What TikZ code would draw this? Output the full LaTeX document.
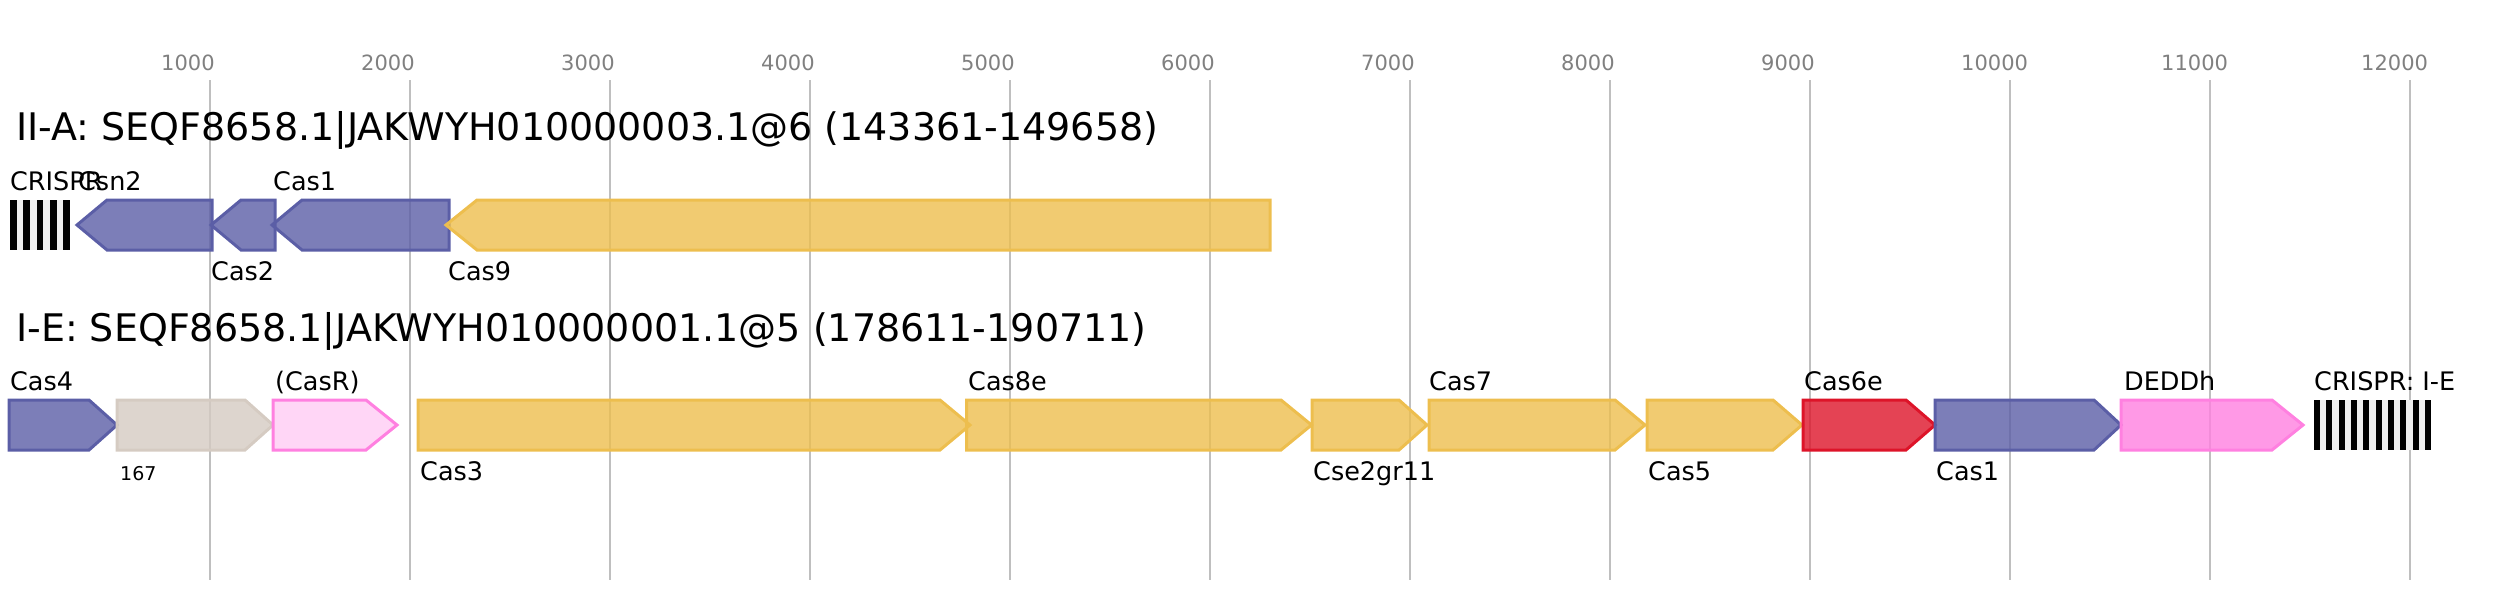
\documentclass[tikz,border=0pt]{standalone}
\usepackage{fontspec}
\setmainfont{DejaVu Sans}
\definecolor{cBlue}{HTML}{5B5EA6}
\definecolor{cYel}{HTML}{EDBE4E}
\definecolor{cRed}{HTML}{DD1429}
\definecolor{cPink}{HTML}{FF80E0}
\definecolor{cPinkL}{HTML}{FFD6F6}
\definecolor{cGray}{HTML}{D5CBC2}
\definecolor{cGrid}{HTML}{BFBFBF}
\definecolor{cTick}{HTML}{808080}
\definecolor{cGap}{HTML}{EEEEEE}
\tikzset{
  gridline/.style={draw=cGrid, line width=2},
  ticklab/.style={anchor=base west, inner sep=0, text=cTick, font=\fontsize{21}{25}\selectfont},
  title/.style={anchor=base west, inner sep=0, font=\fontsize{38}{44}\selectfont},
  glab/.style={anchor=base west, inner sep=0, font=\fontsize{25.5}{30}\selectfont},
  slab/.style={anchor=base west, inner sep=0, font=\fontsize{19}{23}\selectfont},
  gbase/.style={line width=3, line join=miter, fill opacity=0.8},
  gblue/.style={gbase, draw=cBlue, fill=cBlue},
  gyel/.style={gbase, draw=cYel, fill=cYel},
  gred/.style={gbase, draw=cRed, fill=cRed},
  gpink/.style={gbase, draw=cPink, fill=cPink},
  gpinkl/.style={gbase, draw=cPink, fill=cPinkL, fill opacity=1},
  ggray/.style={gbase, draw=cGray, fill=cGray},
  bar/.style={fill=black},
  gap/.style={fill=cGap},
}
% right-pointing gene: #1 style, #2 left, #3 shaft end, #4 tip, #5 top y
\newcommand{\generight}[5]{\path[#1] (#2,#5) -- (#3,#5) -- (#4,#5+25) -- (#3,#5+50) -- (#2,#5+50) -- cycle;}
% left-pointing gene: #1 style, #2 tip, #3 shaft start, #4 right, #5 top y
\newcommand{\geneleft}[5]{\path[#1] (#2,#5+25) -- (#3,#5) -- (#4,#5) -- (#4,#5+50) -- (#3,#5+50) -- cycle;}
\begin{document}
\begin{tikzpicture}[x=1pt, y=-1pt]
\useasboundingbox (0,0) rectangle (2520,600);
% grid and ticks
\foreach \k in {1,...,12} {
  \pgfmathsetmacro{\gx}{10+200*\k}
  \draw[gridline] (\gx,80) -- (\gx,580);
  \node[ticklab] (tick\k) at (\gx-49,70) {\k000};
}
% titles
\node[title] (t1) at (16,140) {II-A: SEQF8658.1|JAKWYH010000003.1@6 (143361-149658)};
\node[title] (t2) at (16,341) {I-E: SEQF8658.1|JAKWYH010000001.1@5 (178611-190711)};
% ---- row 1 ----
\fill[gap] (10,200) rectangle (70,250);
\foreach \i in {0,...,4} { \fill[bar] (10+13.33*\i,200) rectangle (16.67+13.33*\i,250); }
\geneleft{gblue}{77}{107}{212}{200}
\geneleft{gblue}{211}{241}{275}{200}
\geneleft{gblue}{272}{302}{449}{200}
\geneleft{gyel}{446}{477}{1270}{200}
\node[glab] (l1crispr) at (10,190) {CRISPR};
\node[glab] (l1csn2) at (78,190) {Csn2};
\node[glab] (l1cas1) at (273,190) {Cas1};
\node[glab] (l1cas2) at (211,280) {Cas2};
\node[glab] (l1cas9) at (448,280) {Cas9};
% ---- row 2 ----
\generight{gblue}{9}{89}{117}{400}
\generight{ggray}{117}{245}{273}{400}
\generight{gpinkl}{273}{366}{397}{400}
\generight{gyel}{418}{940}{970}{400}
\generight{gyel}{966.5}{1281}{1311.5}{400}
\generight{gyel}{1312}{1399}{1427}{400}
\generight{gyel}{1429}{1615}{1645}{400}
\generight{gyel}{1647}{1773}{1802}{400}
\generight{gred}{1803}{1906}{1935}{400}
\generight{gblue}{1935}{2094}{2121}{400}
\generight{gpink}{2121}{2272}{2303}{400}
\fill[gap] (2314,400) rectangle (2431,450);
\foreach \i in {0,...,9} { \fill[bar] (2314+12.33*\i,400) rectangle (2319.9+12.33*\i,450); }
\node[glab] (l2cas4) at (10,390) {Cas4};
\node[slab] (l2u167) at (120,480) {167};
\node[glab] (l2casr) at (275,390) {(CasR)};
\node[glab] (l2cas3) at (420,480) {Cas3};
\node[glab] (l2cas8e) at (968,390) {Cas8e};
\node[glab] (l2cse2) at (1313,480) {Cse2gr11};
\node[glab] (l2cas7) at (1429,390) {Cas7};
\node[glab] (l2cas5) at (1648,480) {Cas5};
\node[glab] (l2cas6e) at (1804,390) {Cas6e};
\node[glab] (l2cas1) at (1936,480) {Cas1};
\node[glab] (l2deddh) at (2124,390) {DEDDh};
\node[glab] (l2crispr) at (2314,390) {CRISPR: I-E};
\end{tikzpicture}
\end{document}
